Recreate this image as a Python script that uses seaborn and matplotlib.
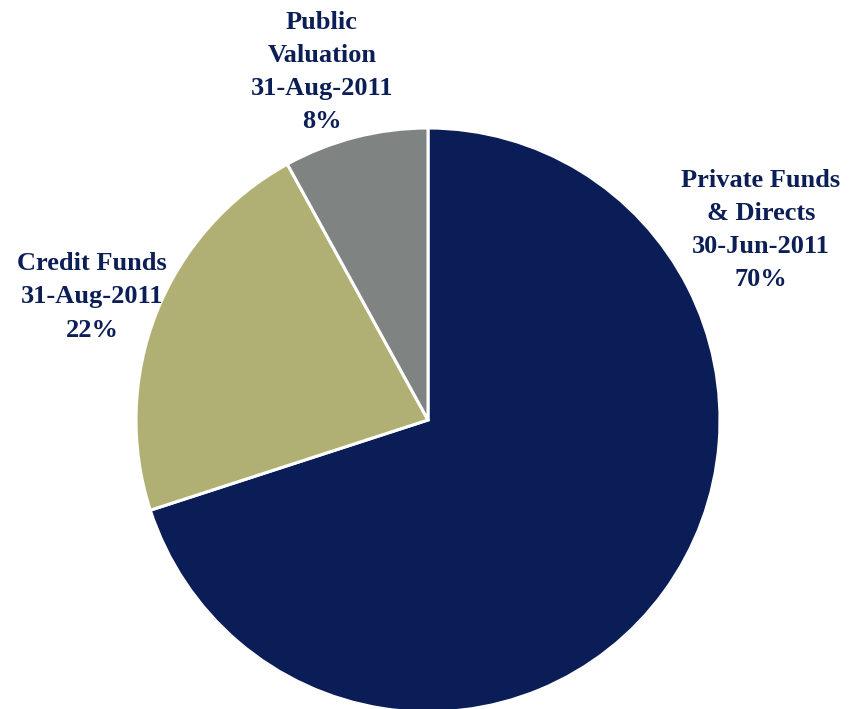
import matplotlib
matplotlib.use("Agg")
import matplotlib.pyplot as plt
import seaborn as sns

categories = ["Private Funds\n& Directs", "Credit Funds", "Public\nValuation"]
dates = ["30-Jun-2011", "31-Aug-2011", "31-Aug-2011"]
shares = [70, 22, 8]
colors = ["#0A1D57", "#B1B074", "#7F8483"]

sns.set_theme(style="white")
plt.rcParams["font.family"] = ["Liberation Serif", "DejaVu Serif"]

fig = plt.figure(figsize=(8.49, 7.09), dpi=100)
ax = fig.add_axes([0, 0, 1, 1])

wedges, _ = ax.pie(shares, colors=colors, startangle=90, counterclock=False,
                   wedgeprops=dict(edgecolor="white", linewidth=2.2))

# put the pie where it is in the original (center ~ (428, 420) px, r ~ 292 px)
r = 292
ax.set_xlim(-428 / r, (849 - 428) / r)
ax.set_ylim(-(709 - 420) / r, 420 / r)
ax.set_aspect("auto")
ax.axis("off")

# label positions in axes fraction
label_pos = [(761 / 849, 1 - 230 / 709), (92 / 849, 1 - 297 / 709), (322 / 849, 1 - 72 / 709)]
for name, d, s, (x, y) in zip(categories, dates, shares, label_pos):
    ax.text(x, y, f"{name}\n{d}\n{s}%", transform=ax.transAxes, ha="center", va="center",
            fontsize=19, fontweight="bold", color="#0B1E56", linespacing=1.56)

fig.savefig("out.png", dpi=100)
